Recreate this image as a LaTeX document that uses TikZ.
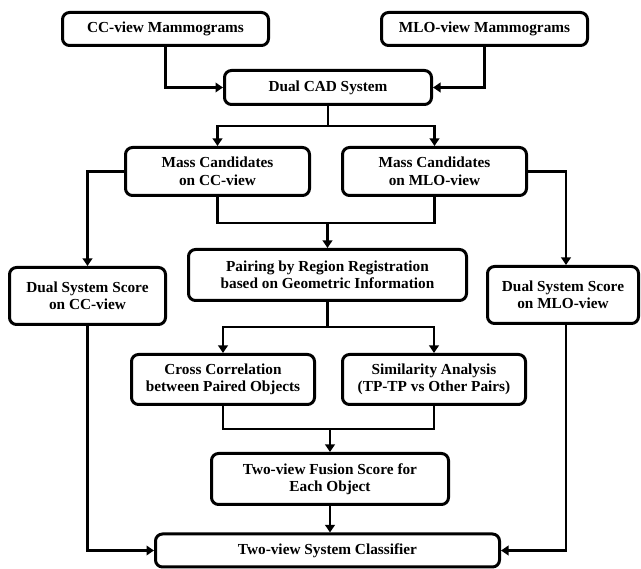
\documentclass[tikz,border=0pt]{standalone}
\usepackage{fontspec}
\setmainfont{Liberation Serif}
\usetikzlibrary{arrows.meta}
\begin{document}
\begin{tikzpicture}[x=1pt,y=-1pt,
  box/.style={draw, line width=3pt, rounded corners=7pt, inner sep=0pt,
    align=center, font=\fontsize{15.3}{17.5}\selectfont\bfseries},
  conn/.style={line width=2.8pt, line join=miter},
  arr/.style={conn, -{Triangle[length=7.5pt,width=9.5pt]}}]
\useasboundingbox (0,0) rectangle (641,569);
% boxes
\node[box, minimum width=206, minimum height=33] (ccm) at (165.5,29) {CC-view Mammograms};
\node[box, minimum width=206, minimum height=33] (mlom) at (484.5,29) {MLO-view Mammograms};
\node[box, minimum width=207, minimum height=34] (cad) at (328,87.5) {Dual CAD System};
\node[box, minimum width=184, minimum height=48] (mcc) at (217.5,171.5) {Mass Candidates\\on CC-view};
\node[box, minimum width=184, minimum height=48] (mmlo) at (434.5,171.5) {Mass Candidates\\on MLO-view};
\node[box, minimum width=278, minimum height=51] (pair) at (327.5,275) {Pairing by Region Registration\\based on Geometric Information};
\node[box, minimum width=156, minimum height=57] (dcc) at (87.5,296) {Dual System Score\\on CC-view};
\node[box, minimum width=151, minimum height=57] (dmlo) at (563,295) {Dual System Score\\on MLO-view};
\node[box, minimum width=183, minimum height=50] (cross) at (223,379.5) {Cross Correlation\\between Paired Objects};
\node[box, minimum width=183, minimum height=50] (sim) at (434,379.5) {Similarity Analysis\\(TP-TP vs Other Pairs)};
\node[box, minimum width=237, minimum height=51] (fus) at (330,479) {Two-view Fusion Score for\\Each Object};
\node[box, minimum width=344, minimum height=33] (cls) at (327.5,550.5) {Two-view System Classifier};
% helper coordinates
\coordinate (j1) at (328,126);
\coordinate (j2) at (327.5,223);
\coordinate (j3) at (327.5,327);
\coordinate (j4) at (330,429);
\coordinate (rx) at (566,0);
% connectors
\draw[arr] (ccm.south) |- (cad.west);
\draw[arr] (mlom.south) |- (cad.east);
\draw[conn] (cad.south) -- (j1);
\draw[arr] (j1) -| (mcc.north);
\draw[arr] (j1) -| (mmlo.north);
\draw[arr] (mcc.west) -| (dcc.north);
\draw[arr] (mmlo.east) -| (rx |- dmlo.north);
\draw[conn] (mcc.south) |- (j2) -| (mmlo.south);
\draw[arr] (j2) -- (pair.north);
\draw[conn] (pair.south) -- (j3);
\draw[arr] (j3) -| (cross.north);
\draw[arr] (j3) -| (sim.north);
\draw[conn] (cross.south) |- (j4) -| (sim.south);
\draw[arr] (j4) -- (fus.north);
\draw[arr] (fus.south) -- (fus.south |- cls.north);
\draw[arr] (dcc.south) |- (cls.west);
\draw[arr] (rx |- dmlo.south) |- (cls.east);
\end{tikzpicture}
\end{document}
